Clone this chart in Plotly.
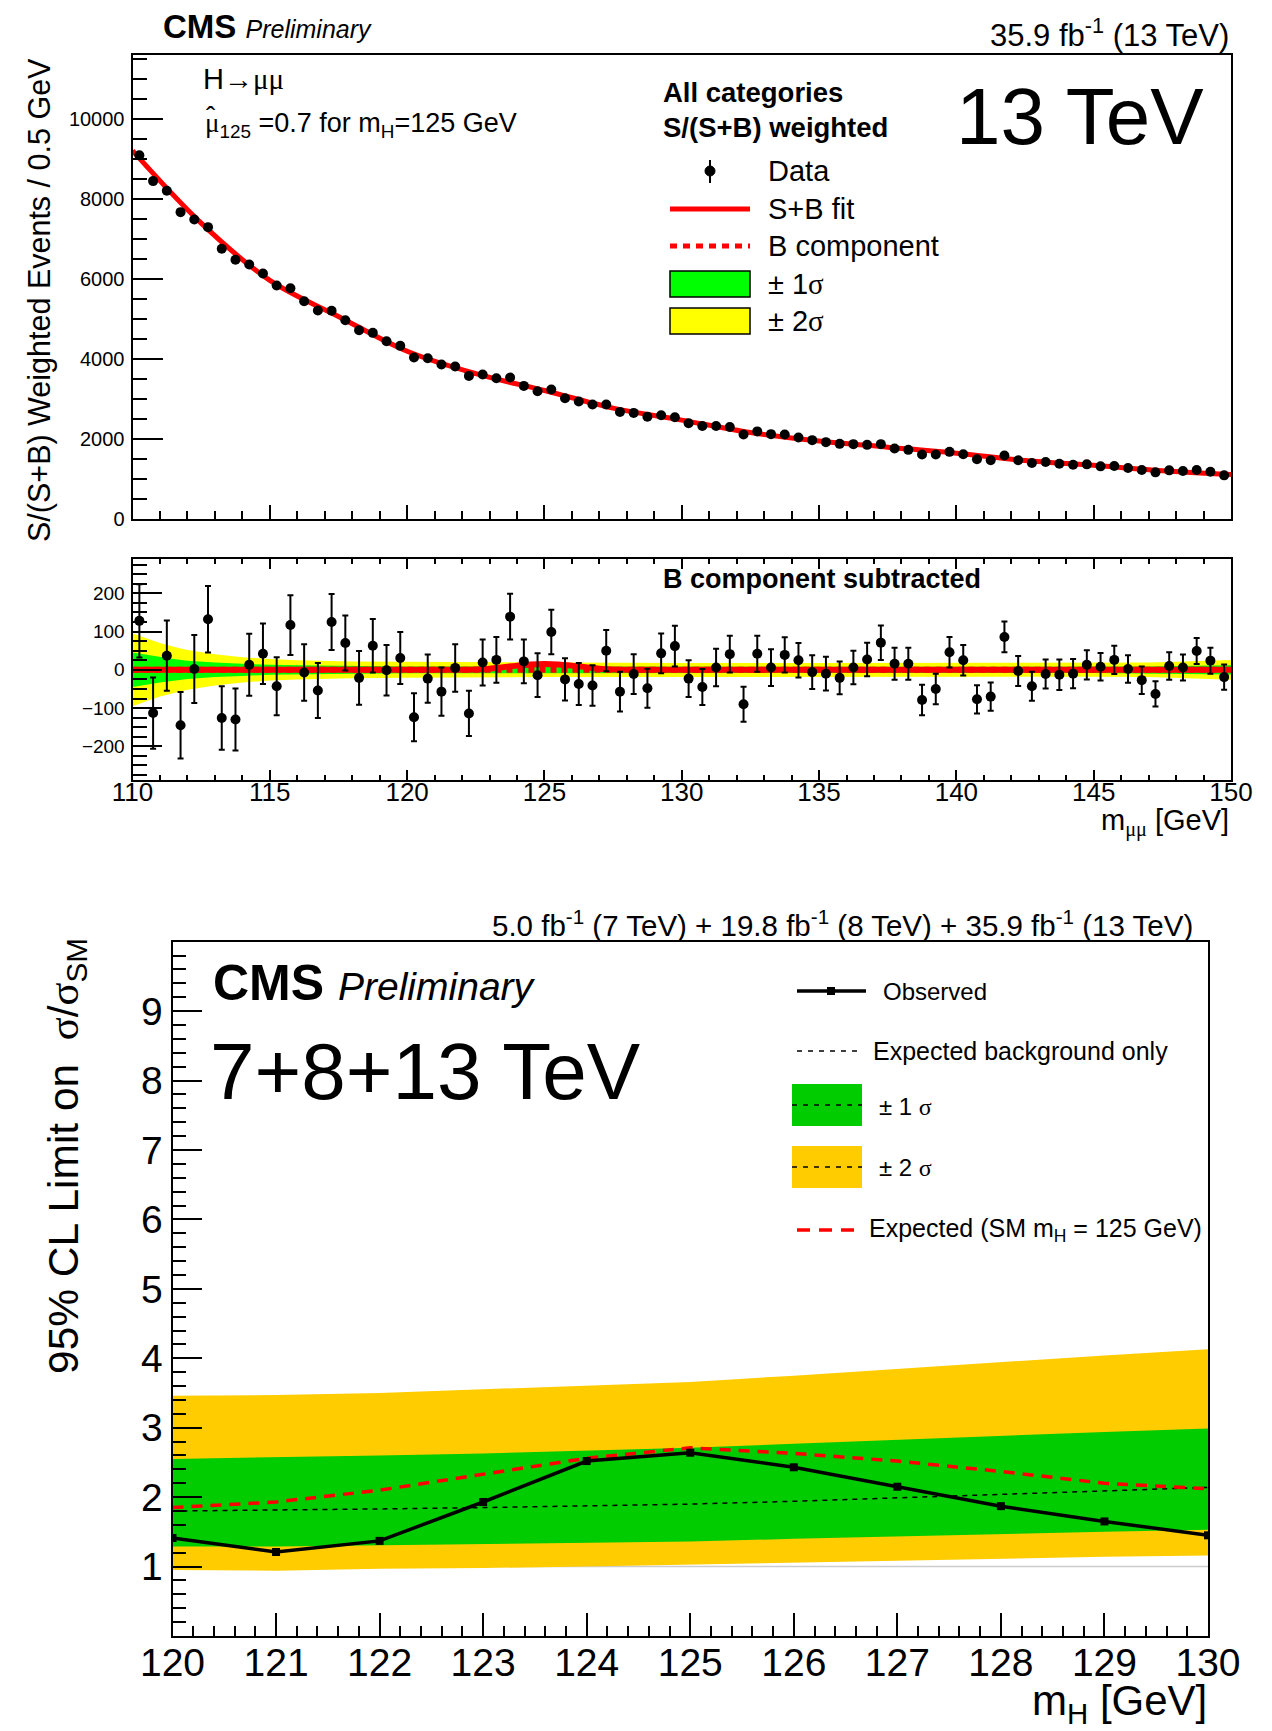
import plotly.graph_objects as go

W, H = 1272, 1731
FONT = "Liberation Sans, Arial, Helvetica, sans-serif"
SERIF = "'Liberation Serif'"

# ---- upper panel: S/(S+B) weighted m_mumu spectrum, 0.5 GeV bins 110-150
BIN_CENTRES = [110.25 + 0.5 * i for i in range(80)]
EVENTS = [9083, 8440, 8200, 7665, 7483, 7290, 6750, 6475, 6355, 6133,
          5833, 5765, 5440, 5208, 5200, 4965, 4715, 4650, 4440, 4325,
          4033, 4015, 3858, 3808, 3575, 3608, 3515, 3533, 3325, 3190,
          3233, 3015, 2933, 2858, 2860, 2675, 2650, 2557, 2590, 2540,
          2390, 2322, 2322, 2297, 2112, 2188, 2120, 2112, 2037, 1970,
          1920, 1877, 1870, 1852, 1870, 1760, 1727, 1610, 1610, 1677,
          1617, 1492, 1467, 1585, 1467, 1400, 1425, 1382, 1357, 1365,
          1315, 1322, 1273, 1223, 1165, 1215, 1198, 1223, 1182, 1090]
# B component subtracted, same bins
SUBTRACTED = [128, -113, 37, -145, 2, 132, -126, -130, 13, 42,
              -43, 117, -7, -54, 125, 70, -21, 63, -1, 31,
              -124, -23, -57, 5, -114, 19, 26, 139, 22, -14,
              99, -25, -37, -41, 50, -57, -11, -48, 43, 62,
              -23, -45, 6, 41, -90, 42, 6, 39, 25, -6,
              -10, -21, 6, 27, 71, 16, 16, -79, -50, 46,
              25, -77, -70, 86, -3, -43, -11, -13, -10, 13,
              8, 26, 2, -27, -63, 10, 6, 49, 24, -19]
ERRORS = [96, 93, 92, 87, 89, 87, 83, 81, 81, 79,
          76, 78, 74, 72, 73, 72, 70, 70, 66, 68,
          63, 63, 63, 62, 59, 60, 60, 60, 57, 57,
          58, 55, 55, 53, 54, 52, 52, 51, 52, 53,
          48, 47, 49, 48, 46, 47, 48, 46, 45, 44,
          44, 43, 44, 44, 45, 42, 42, 40, 40, 40,
          40, 37, 37, 40, 39, 38, 38, 40, 38, 38,
          36, 37, 36, 36, 33, 36, 34, 34, 34, 33]

FIT_MASS = [110, 112.5, 115, 117.5, 120, 122.5, 125, 127.5, 130,
            132.5, 135, 137.5, 140, 142.5, 145, 147.5, 150]
FIT_SB = [9200, 7390, 5960, 5060, 4190, 3630, 3210, 2770, 2470,
          2160, 1950, 1795, 1645, 1460, 1340, 1205, 1110]

SIG_MASS = [110, 122, 122.5, 123, 123.5, 124, 124.5, 125, 125.5, 126,
            126.5, 127, 127.5, 128, 150]
SIG_ONLY = [0, 0, 1, 3, 7, 11, 14, 15, 14, 11, 7, 3, 1, 0, 0]
B_SUB_MASS = [110, 150]
B_SUB = [0, 0]

BAND_MASS = [110, 110.5, 111, 111.5, 112, 113, 114, 115, 116, 118,
             120, 125, 130, 135, 140, 145, 147, 148, 149, 150]
BAND_2SIG = [95, 82, 70, 60, 52, 41, 33, 28, 25, 22,
             21, 19, 18, 18, 18, 18, 19, 21, 24, 26]
BAND_1SIG = [45, 39, 33, 28, 24, 19, 16, 13, 12, 10,
             9, 9, 8, 8, 8, 8, 9, 10, 11, 12]

# ---- lower plot: 95% CL limit on sigma/sigma_SM vs m_H
MH = [120, 121, 122, 123, 124, 125, 126, 127, 128, 129, 130]
OBSERVED = [1.41, 1.21, 1.37, 1.93, 2.52, 2.64, 2.43, 2.15, 1.87, 1.65, 1.45]
EXP_BKG = [1.80, 1.81, 1.83, 1.85, 1.87, 1.90, 1.94, 1.99, 2.04, 2.09, 2.14]
EXP_SM = [1.85, 1.93, 2.10, 2.33, 2.56, 2.71, 2.63, 2.52, 2.37, 2.20, 2.12]
UP2 = [3.46, 3.47, 3.50, 3.55, 3.60, 3.66, 3.75, 3.85, 3.95, 4.04, 4.13]
UP1 = [2.55, 2.57, 2.60, 2.63, 2.67, 2.71, 2.77, 2.83, 2.89, 2.94, 2.99]
DN1 = [1.29, 1.29, 1.30, 1.32, 1.34, 1.36, 1.40, 1.44, 1.47, 1.50, 1.53]
DN2 = [0.95, 0.94, 0.97, 0.98, 1.00, 1.02, 1.05, 1.08, 1.11, 1.14, 1.16]
SM_REF = 1.0


def px(x):
    return x / W


def py(y):
    return 1 - y / H


def band(x, lo, hi):
    return list(x) + list(x)[::-1], list(hi) + list(lo)[::-1]


fig = go.Figure()

# upper panel
fig.add_trace(go.Scatter(x=FIT_MASS, y=FIT_SB, mode="lines", line_shape="spline",
                         line=dict(color="#ff0000", width=5), xaxis="x", yaxis="y"))
fig.add_trace(go.Scatter(x=BIN_CENTRES, y=EVENTS, mode="markers",
                         marker=dict(color="black", size=10),
                         error_y=dict(type="data", array=ERRORS, color="black",
                                      thickness=1.5, width=0),
                         xaxis="x", yaxis="y"))

# B-subtracted panel
bx, by = band(BAND_MASS, [-v for v in BAND_2SIG], BAND_2SIG)
fig.add_trace(go.Scatter(x=bx, y=by, fill="toself", fillcolor="#ffff00",
                         line=dict(width=0), mode="lines", xaxis="x2", yaxis="y2"))
bx, by = band(BAND_MASS, [-v for v in BAND_1SIG], BAND_1SIG)
fig.add_trace(go.Scatter(x=bx, y=by, fill="toself", fillcolor="#00ff00",
                         line=dict(width=0), mode="lines", xaxis="x2", yaxis="y2"))
fig.add_trace(go.Scatter(x=B_SUB_MASS, y=B_SUB, mode="lines",
                         line=dict(color="#ff0000", width=6, dash="6px,5px"),
                         xaxis="x2", yaxis="y2"))
fig.add_trace(go.Scatter(x=SIG_MASS, y=SIG_ONLY, mode="lines", line_shape="spline",
                         line=dict(color="#ff0000", width=6), xaxis="x2", yaxis="y2"))
fig.add_trace(go.Scatter(x=BIN_CENTRES, y=SUBTRACTED, mode="markers",
                         marker=dict(color="black", size=10),
                         error_y=dict(type="data", array=ERRORS, color="black",
                                      thickness=2, width=3),
                         xaxis="x2", yaxis="y2"))

# limit plot
bx, by = band(MH, DN2, UP2)
fig.add_trace(go.Scatter(x=bx, y=by, fill="toself", fillcolor="#ffcc00",
                         line=dict(width=0), mode="lines", xaxis="x3", yaxis="y3"))
bx, by = band(MH, DN1, UP1)
fig.add_trace(go.Scatter(x=bx, y=by, fill="toself", fillcolor="#00cc00",
                         line=dict(width=0), mode="lines", xaxis="x3", yaxis="y3"))
fig.add_trace(go.Scatter(x=MH, y=EXP_BKG, mode="lines",
                         line=dict(color="black", width=1.5, dash="5px,5px"),
                         xaxis="x3", yaxis="y3"))
fig.add_trace(go.Scatter(x=MH, y=EXP_SM, mode="lines",
                         line=dict(color="#ff0000", width=3.5, dash="11px,8px"),
                         xaxis="x3", yaxis="y3"))
fig.add_trace(go.Scatter(x=MH, y=OBSERVED, mode="lines+markers",
                         line=dict(color="black", width=3.5),
                         marker=dict(symbol="square", size=8, color="black"),
                         xaxis="x3", yaxis="y3"))


def axis(**kw):
    base = dict(showgrid=False, zeroline=False, showline=True, linecolor="black",
                linewidth=2, ticks="inside", tickcolor="black", tickwidth=1.5,
                mirror=True, automargin=False,
                tickfont=dict(family=FONT, color="black"))
    base.update(kw)
    return base


def minor(dtick, ln):
    return dict(ticks="inside", ticklen=ln, tickwidth=1.5, tickcolor="black",
                dtick=dtick, showgrid=False)


top_x = [px(132.5), px(1231)]
fig.update_layout(
    xaxis=axis(domain=top_x, range=[110, 150], anchor="y", showticklabels=False,
               ticklen=14, dtick=5, tick0=110, minor=minor(1, 8)),
    yaxis=axis(domain=[py(519), py(55)], range=[0, 11590], anchor="x",
               ticklen=30, dtick=2000, tick0=0, minor=minor(500, 14), tickformat="d",
               ticklabelstandoff=2,
               tickfont=dict(family=FONT, size=20, color="black")),
    xaxis2=axis(domain=top_x, range=[110, 150], anchor="y2", mirror="ticks",
                ticklen=10, dtick=5, tick0=110, minor=minor(1, 5),
                ticklabelstandoff=-12,
                tickfont=dict(family=FONT, size=26, color="black")),
    yaxis2=axis(domain=[py(780), py(558.5)], range=[-288, 291], anchor="x2",
                ticklen=29, dtick=100, tick0=0, minor=minor(25, 14),
                ticklabelstandoff=2,
                tickfont=dict(family=FONT, size=19, color="black")),
    xaxis3=axis(domain=[px(172.5), px(1208)], range=[120, 130], anchor="y3",
                ticklen=23, dtick=1, tick0=120, minor=minor(0.2, 10),
                ticklabelstandoff=-9,
                tickfont=dict(family=FONT, size=39, color="black")),
    yaxis3=axis(domain=[py(1636), py(941.7)], range=[0, 10], anchor="x3",
                ticklen=29, tickmode="array", tickvals=[1, 2, 3, 4, 5, 6, 7, 8, 9],
                minor=minor(0.2, 13),
                tickfont=dict(family=FONT, size=39, color="black")),
)

shapes = []
annotations = []


def text(x, y, s, size, anchor="left", angle=0, **kw):
    annotations.append(dict(x=px(x), y=py(y), xref="paper", yref="paper", text=s,
                            showarrow=False, xanchor=anchor, yanchor="middle",
                            textangle=angle,
                            font=dict(family=FONT, size=size, color="black"), **kw))


def pline(x0, y0, x1, y1, color, width, dash="solid"):
    shapes.append(dict(type="line", xref="paper", yref="paper", x0=px(x0), y0=py(y0),
                       x1=px(x1), y1=py(y1), line=dict(color=color, width=width, dash=dash)))


def prect(x0, y0, x1, y1, fill, border=None):
    shapes.append(dict(type="rect", xref="paper", yref="paper", x0=px(x0), y0=py(y0),
                       x1=px(x1), y1=py(y1), fillcolor=fill,
                       line=dict(color=border or fill, width=1.5 if border else 0)))


sig = lambda s: f'<span style="font-family:{SERIF}">{s}</span>'

# upper panel texts
text(161, 27, '<b>CMS</b> <i><span style="font-size:25px">Preliminary</span></i>', 33)
text(1231, 33, "35.9 fb<sup>-1</sup> (13 TeV)", 31, anchor="right")
text(201, 79, "H\u2192" + sig("\u03bc\u03bc"), 29)
text(203, 125, sig("\u03bc") + "<sub>125</sub> =0.7 for m<sub>H</sub>=125 GeV", 27)
text(211, 117, "\u02c6", 28, anchor="center")
text(661, 92, "<b>All categories</b>", 27.5)
text(661, 127, "<b>S/(S+B) weighted</b>", 27.5)
text(766, 171, "Data", 29)
text(766, 209, "S+B fit", 29)
text(766, 246, "B component", 29)
text(766, 284, "\u00b1 1" + sig("\u03c3"), 29)
text(766, 321, "\u00b1 2" + sig("\u03c3"), 29)
text(1206, 116, "13 TeV", 80, anchor="right")
text(40, 300, "S/(S+B) Weighted Events / 0.5 GeV", 30.5, anchor="center", angle=-90)
text(661, 579, "<b>B component subtracted</b>", 27)
text(1231, 822, "m<sub>" + sig("\u03bc\u03bc") + "</sub> [GeV]", 29, anchor="right")

pline(710, 160, 710, 183, "black", 2)
shapes.append(dict(type="circle", xref="paper", yref="paper", x0=px(705), x1=px(715),
                   y0=py(166), y1=py(176), fillcolor="black", line=dict(color="black", width=1)))
pline(670, 209, 750, 209, "#ff0000", 5)
pline(670, 246, 750, 246, "#ff0000", 5, "7px,6px")
prect(670, 271, 750, 297, "#00ff00", "black")
prect(670, 308, 750, 334, "#ffff00", "black")

# limit plot texts
text(1195, 923, "5.0 fb<sup>-1</sup> (7 TeV) + 19.8 fb<sup>-1</sup> (8 TeV) + 35.9 fb<sup>-1</sup> (13 TeV)",
     29.5, anchor="right")
text(211, 983, '<b>CMS</b> <i><span style="font-size:39px">Preliminary</span></i>', 50)
text(208, 1071, "7+8+13 TeV", 80)
text(66, 1156, "95% CL Limit on  " + sig("\u03c3") + "/" + sig("\u03c3") + "<sub>SM</sub>",
     42.5, anchor="center", angle=-90)
text(1209, 1703, "m<sub>H</sub> [GeV]", 42, anchor="right")
text(881, 991, "Observed", 24)
text(871, 1051, "Expected background only", 25)
text(877, 1106, "\u00b1 1 " + sig("\u03c3"), 24)
text(877, 1167, "\u00b1 2 " + sig("\u03c3"), 24)
text(867, 1230, "Expected (SM m<sub>H</sub> = 125 GeV)", 25)

pline(797, 991, 866, 991, "black", 3.5)
prect(827, 987, 835, 995, "black")
pline(797, 1051, 860, 1051, "black", 1.5, "5px,6px")
prect(792, 1084, 862, 1126, "#00cc00")
pline(792, 1105, 862, 1105, "black", 1.5, "5px,6px")
prect(792, 1146, 862, 1188, "#ffcc00")
pline(792, 1167, 862, 1167, "black", 1.5, "5px,6px")
pline(797, 1230, 860, 1230, "#ff0000", 3.5, "13px,9px")

# reference line at sigma/sigma_SM = 1
shapes.append(dict(type="line", xref="x3 domain", yref="y3", x0=0, x1=1, y0=SM_REF, y1=SM_REF,
                   line=dict(color="#cccccc", width=1.5), layer="below"))

fig.update_layout(width=W, height=H, autosize=False, showlegend=False,
                  margin=dict(l=0, r=0, t=0, b=0),
                  paper_bgcolor="white", plot_bgcolor="white",
                  shapes=shapes, annotations=annotations,
                  font=dict(family=FONT, color="black"))

fig.write_html("out.html", config={"displayModeBar": False},
               post_script="document.body.style.margin = '0px';")
